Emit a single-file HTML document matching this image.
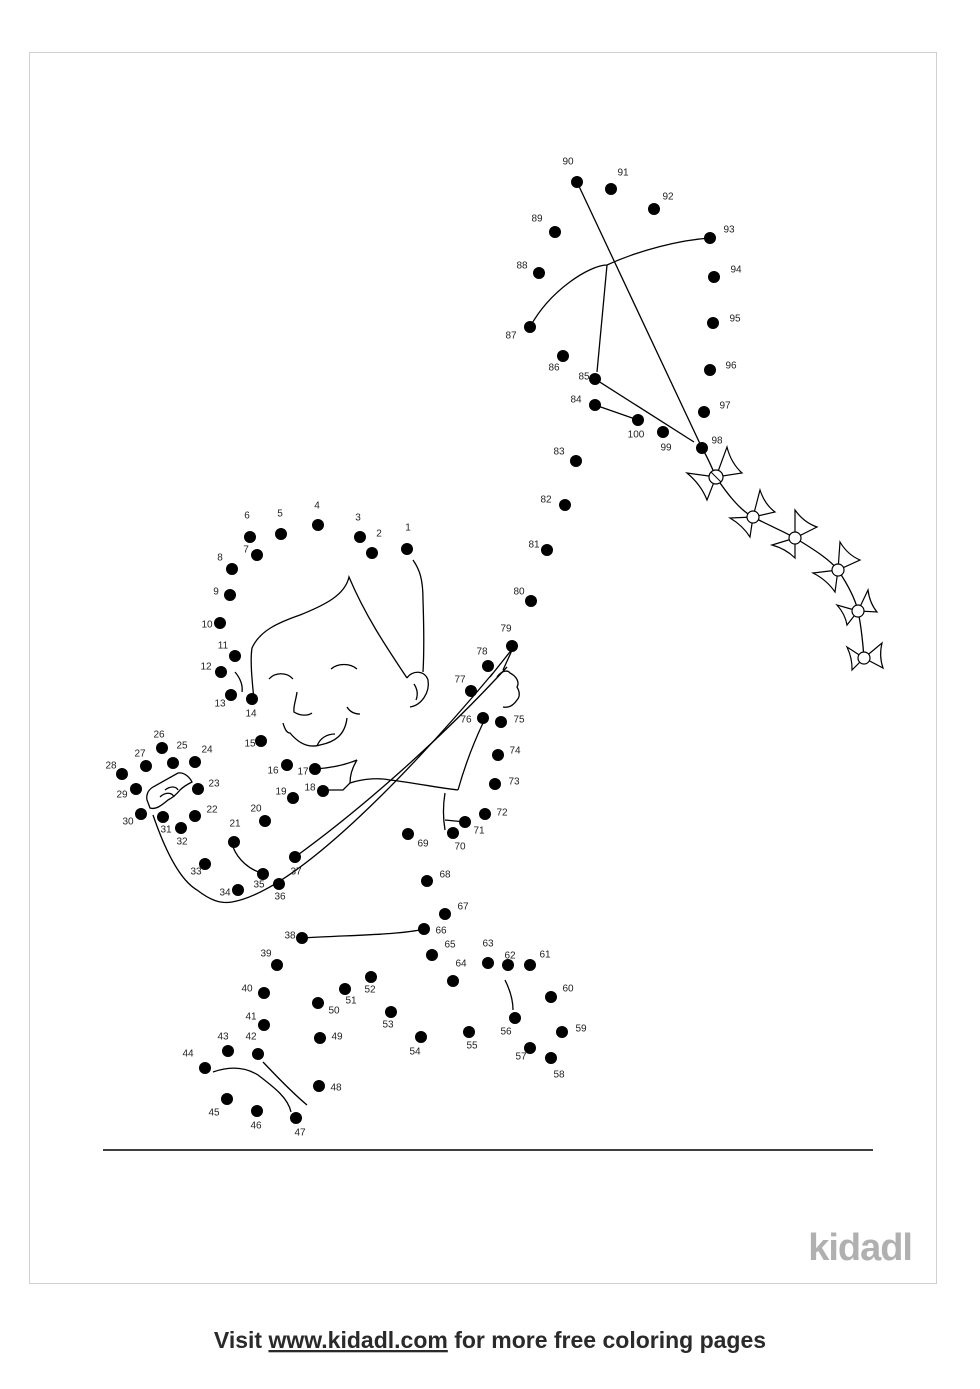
<!DOCTYPE html>
<html><head><meta charset="utf-8"><style>
html,body{margin:0;padding:0;background:#fff;}
svg{display:block;}
text{font-family:"Liberation Sans",sans-serif;}
</style></head><body>
<svg width="980" height="1389" viewBox="0 0 980 1389" xmlns="http://www.w3.org/2000/svg">
<rect x="0" y="0" width="980" height="1389" fill="#fff"/>
<rect x="29.5" y="52.5" width="907" height="1231" fill="none" stroke="#d0d0d0" stroke-width="1"/>
<line x1="103" y1="1150" x2="873" y2="1150" stroke="#000" stroke-width="1.5"/>
<g fill="none" stroke="#000" stroke-width="1.3">
<line x1="577" y1="182" x2="702" y2="448"/>
<path d="M530,327 C550,290 590,265 607,265 C640,250 680,240 710,238"/>
<line x1="607" y1="265" x2="597" y2="372"/>
<line x1="595" y1="379" x2="694" y2="442"/>
<line x1="595" y1="405" x2="638" y2="420"/>
<path d="M702,448 C708,458 712,468 716,477 C728,495 740,510 753,517 C770,526 785,532 795,538 C815,550 830,560 838,570 C848,585 855,598 858,611 C862,630 863,645 864,658"/>
<path d="M254,700 C252,680 250,660 252,648 C260,630 280,622 300,615 C325,605 345,595 349,577 C365,615 385,645 407,678"/>
<path d="M413,560 C420,570 423,580 423,600 C424,630 424,655 423,672"/>
<path d="M407,678 C412,670 425,670 428,680 C430,692 422,705 410,707"/>
<path d="M414,684 C418,690 418,695 416,700"/>
<path d="M235,672 C240,678 243,685 242,692"/>
<path d="M269,679 C275,672 287,672 293,679"/>
<path d="M331,669 C338,663 350,663 357,669"/>
<path d="M297,692 C296,700 293,707 294,712 C300,716 308,716 312,713"/>
<path d="M347,707 C350,712 355,714 360,714"/>
<path d="M283,723 C285,730 287,733 290,733 C300,745 310,748 320,745 C335,742 345,735 347,718"/>
<path d="M317,746 C320,738 327,734 335,734"/>
<path d="M315,769 C330,768 345,765 357,760"/>
<path d="M357,760 C352,768 350,776 350,783 L343,790 L325,790"/>
<path d="M350,783 C365,778 380,778 390,780 C415,783 440,788 458,790"/>
<path d="M458,790 C465,765 475,740 483,723"/>
<path d="M445,793 C443,805 443,818 445,830"/>
<path d="M445,820 L465,822"/>
<path d="M153,815 C165,850 180,880 197,890 C210,900 220,904 232,902 C300,890 420,760 493,673"/>
<path d="M295,857 C360,810 440,740 507,667"/>
<path d="M490,677 L513,648 M503,670 L513,648"/>
<path d="M497,677 C502,670 508,670 510,673 C516,676 520,682 517,687 C520,692 520,697 517,700 C513,706 508,708 503,707"/>
<path d="M147,800 C146,795 148,790 153,787 L178,773 C185,772 190,778 192,782 C186,785 183,787 180,790 C176,795 172,798 168,800 C162,805 156,810 150,808 Z"/>
<path d="M165,790 C170,786 176,786 178,790"/>
<path d="M160,797 C165,792 172,792 174,797"/>
<path d="M233,847 C238,860 250,870 262,873"/>
<path d="M302,938 C350,935 400,935 424,929"/>
<path d="M263,1062 C280,1080 295,1095 307,1105"/>
<path d="M213,1072 C230,1066 245,1067 258,1075 C275,1088 288,1098 291,1112"/>
<path d="M505,980 C510,990 513,1000 513,1010"/>
</g>
<g fill="#fff" stroke="#000" stroke-width="1.2">
<path d="M716,477 L687,473 Q701,484.6 707,500 Z M716,477 L727,447 Q731,463 742,473 Z"/><circle cx="716" cy="477" r="7"/><line x1="711" y1="472" x2="721" y2="482" stroke-width="1"/>
<path d="M753,517 L730,518 Q742.6,525.4 750,537 Z M753,517 L760,490 Q764.6,504.2 775,512 Z"/><circle cx="753" cy="517" r="6"/>
<path d="M795,538 L772,545 Q785.8,548.8 795,558 Z M795,538 L795,510 Q803.8,522.4 817,527 Z"/><circle cx="795" cy="538" r="6"/>
<path d="M838,570 L813,573 Q826.8,580 835,592 Z M838,570 L840,542 Q847.6,554.8 860,560 Z"/><circle cx="838" cy="570" r="6"/>
<path d="M858,611 L837,605 Q845.2,614.2 847,625 Z M858,611 L868,590 Q869.6,603 877,612 Z"/><circle cx="858" cy="611" r="6"/>
<path d="M864,658 L847,647 Q852.4,658.4 852,670 Z M864,658 L882,643 Q878.8,656 883,668 Z"/><circle cx="864" cy="658" r="6"/>
</g>
<g fill="#000">
<circle cx="407" cy="549" r="6"/><circle cx="372" cy="553" r="6"/><circle cx="360" cy="537" r="6"/><circle cx="318" cy="525" r="6"/><circle cx="281" cy="534" r="6"/><circle cx="250" cy="537" r="6"/><circle cx="257" cy="555" r="6"/><circle cx="232" cy="569" r="6"/><circle cx="230" cy="595" r="6"/><circle cx="220" cy="623" r="6"/>
<circle cx="235" cy="656" r="6"/><circle cx="221" cy="672" r="6"/><circle cx="231" cy="695" r="6"/><circle cx="252" cy="699" r="6"/><circle cx="261" cy="741" r="6"/><circle cx="287" cy="765" r="6"/><circle cx="315" cy="769" r="6"/><circle cx="323" cy="791" r="6"/><circle cx="293" cy="798" r="6"/><circle cx="265" cy="821" r="6"/>
<circle cx="234" cy="842" r="6"/><circle cx="195" cy="816" r="6"/><circle cx="198" cy="789" r="6"/><circle cx="195" cy="762" r="6"/><circle cx="173" cy="763" r="6"/><circle cx="162" cy="748" r="6"/><circle cx="146" cy="766" r="6"/><circle cx="122" cy="774" r="6"/><circle cx="136" cy="789" r="6"/><circle cx="141" cy="814" r="6"/>
<circle cx="163" cy="817" r="6"/><circle cx="181" cy="828" r="6"/><circle cx="205" cy="864" r="6"/><circle cx="238" cy="890" r="6"/><circle cx="263" cy="874" r="6"/><circle cx="279" cy="884" r="6"/><circle cx="295" cy="857" r="6"/><circle cx="302" cy="938" r="6"/><circle cx="277" cy="965" r="6"/><circle cx="264" cy="993" r="6"/>
<circle cx="264" cy="1025" r="6"/><circle cx="258" cy="1054" r="6"/><circle cx="228" cy="1051" r="6"/><circle cx="205" cy="1068" r="6"/><circle cx="227" cy="1099" r="6"/><circle cx="257" cy="1111" r="6"/><circle cx="296" cy="1118" r="6"/><circle cx="319" cy="1086" r="6"/><circle cx="320" cy="1038" r="6"/><circle cx="318" cy="1003" r="6"/>
<circle cx="345" cy="989" r="6"/><circle cx="371" cy="977" r="6"/><circle cx="391" cy="1012" r="6"/><circle cx="421" cy="1037" r="6"/><circle cx="469" cy="1032" r="6"/><circle cx="515" cy="1018" r="6"/><circle cx="530" cy="1048" r="6"/><circle cx="551" cy="1058" r="6"/><circle cx="562" cy="1032" r="6"/><circle cx="551" cy="997" r="6"/>
<circle cx="530" cy="965" r="6"/><circle cx="508" cy="965" r="6"/><circle cx="488" cy="963" r="6"/><circle cx="453" cy="981" r="6"/><circle cx="432" cy="955" r="6"/><circle cx="424" cy="929" r="6"/><circle cx="445" cy="914" r="6"/><circle cx="427" cy="881" r="6"/><circle cx="408" cy="834" r="6"/><circle cx="453" cy="833" r="6"/>
<circle cx="465" cy="822" r="6"/><circle cx="485" cy="814" r="6"/><circle cx="495" cy="784" r="6"/><circle cx="498" cy="755" r="6"/><circle cx="501" cy="722" r="6"/><circle cx="483" cy="718" r="6"/><circle cx="471" cy="691" r="6"/><circle cx="488" cy="666" r="6"/><circle cx="512" cy="646" r="6"/><circle cx="531" cy="601" r="6"/>
<circle cx="547" cy="550" r="6"/><circle cx="565" cy="505" r="6"/><circle cx="576" cy="461" r="6"/><circle cx="595" cy="405" r="6"/><circle cx="595" cy="379" r="6"/><circle cx="563" cy="356" r="6"/><circle cx="530" cy="327" r="6"/><circle cx="539" cy="273" r="6"/><circle cx="555" cy="232" r="6"/><circle cx="577" cy="182" r="6"/>
<circle cx="611" cy="189" r="6"/><circle cx="654" cy="209" r="6"/><circle cx="710" cy="238" r="6"/><circle cx="714" cy="277" r="6"/><circle cx="713" cy="323" r="6"/><circle cx="710" cy="370" r="6"/><circle cx="704" cy="412" r="6"/><circle cx="702" cy="448" r="6"/><circle cx="663" cy="432" r="6"/><circle cx="638" cy="420" r="6"/>
</g>
<g font-size="10" fill="#222" text-anchor="middle" dominant-baseline="middle">
<text x="408" y="528">1</text><text x="379" y="534">2</text><text x="358" y="518">3</text><text x="317" y="506">4</text><text x="280" y="514">5</text><text x="247" y="516">6</text><text x="246" y="550">7</text><text x="220" y="558">8</text><text x="216" y="592">9</text><text x="207" y="625">10</text>
<text x="223" y="646">11</text><text x="206" y="667">12</text><text x="220" y="704">13</text><text x="251" y="714">14</text><text x="250" y="744">15</text><text x="273" y="771">16</text><text x="303" y="772">17</text><text x="310" y="788">18</text><text x="281" y="792">19</text><text x="256" y="809">20</text>
<text x="235" y="824">21</text><text x="212" y="810">22</text><text x="214" y="784">23</text><text x="207" y="750">24</text><text x="182" y="746">25</text><text x="159" y="735">26</text><text x="140" y="754">27</text><text x="111" y="766">28</text><text x="122" y="795">29</text><text x="128" y="822">30</text>
<text x="166" y="830">31</text><text x="182" y="842">32</text><text x="196" y="872">33</text><text x="225" y="893">34</text><text x="259" y="885">35</text><text x="280" y="897">36</text><text x="296" y="872">37</text><text x="290" y="936">38</text><text x="266" y="954">39</text><text x="247" y="989">40</text>
<text x="251" y="1017">41</text><text x="251" y="1037">42</text><text x="223" y="1037">43</text><text x="188" y="1054">44</text><text x="214" y="1113">45</text><text x="256" y="1126">46</text><text x="300" y="1133">47</text><text x="336" y="1088">48</text><text x="337" y="1037">49</text><text x="334" y="1011">50</text>
<text x="351" y="1001">51</text><text x="370" y="990">52</text><text x="388" y="1025">53</text><text x="415" y="1052">54</text><text x="472" y="1046">55</text><text x="506" y="1032">56</text><text x="521" y="1057">57</text><text x="559" y="1075">58</text><text x="581" y="1029">59</text><text x="568" y="989">60</text>
<text x="545" y="955">61</text><text x="510" y="956">62</text><text x="488" y="944">63</text><text x="461" y="964">64</text><text x="450" y="945">65</text><text x="441" y="931">66</text><text x="463" y="907">67</text><text x="445" y="875">68</text><text x="423" y="844">69</text><text x="460" y="847">70</text>
<text x="479" y="831">71</text><text x="502" y="813">72</text><text x="514" y="782">73</text><text x="515" y="751">74</text><text x="519" y="720">75</text><text x="466" y="720">76</text><text x="460" y="680">77</text><text x="482" y="652">78</text><text x="506" y="629">79</text><text x="519" y="592">80</text>
<text x="534" y="545">81</text><text x="546" y="500">82</text><text x="559" y="452">83</text><text x="576" y="400">84</text><text x="584" y="377">85</text><text x="554" y="368">86</text><text x="511" y="336">87</text><text x="522" y="266">88</text><text x="537" y="219">89</text><text x="568" y="162">90</text>
<text x="623" y="173">91</text><text x="668" y="197">92</text><text x="729" y="230">93</text><text x="736" y="270">94</text><text x="735" y="319">95</text><text x="731" y="366">96</text><text x="725" y="406">97</text><text x="717" y="441">98</text><text x="666" y="448">99</text><text x="636" y="435">100</text>
</g>
<text x="912" y="1260" font-size="38" font-weight="bold" fill="#b0b0b0" text-anchor="end" style="letter-spacing:-1px">kidadl</text>
<text x="490" y="1348" font-size="23" font-weight="bold" fill="#2a2a2a" text-anchor="middle">Visit <tspan text-decoration="underline">www.kidadl.com</tspan> for more free coloring pages</text>
</svg>
</body></html>
